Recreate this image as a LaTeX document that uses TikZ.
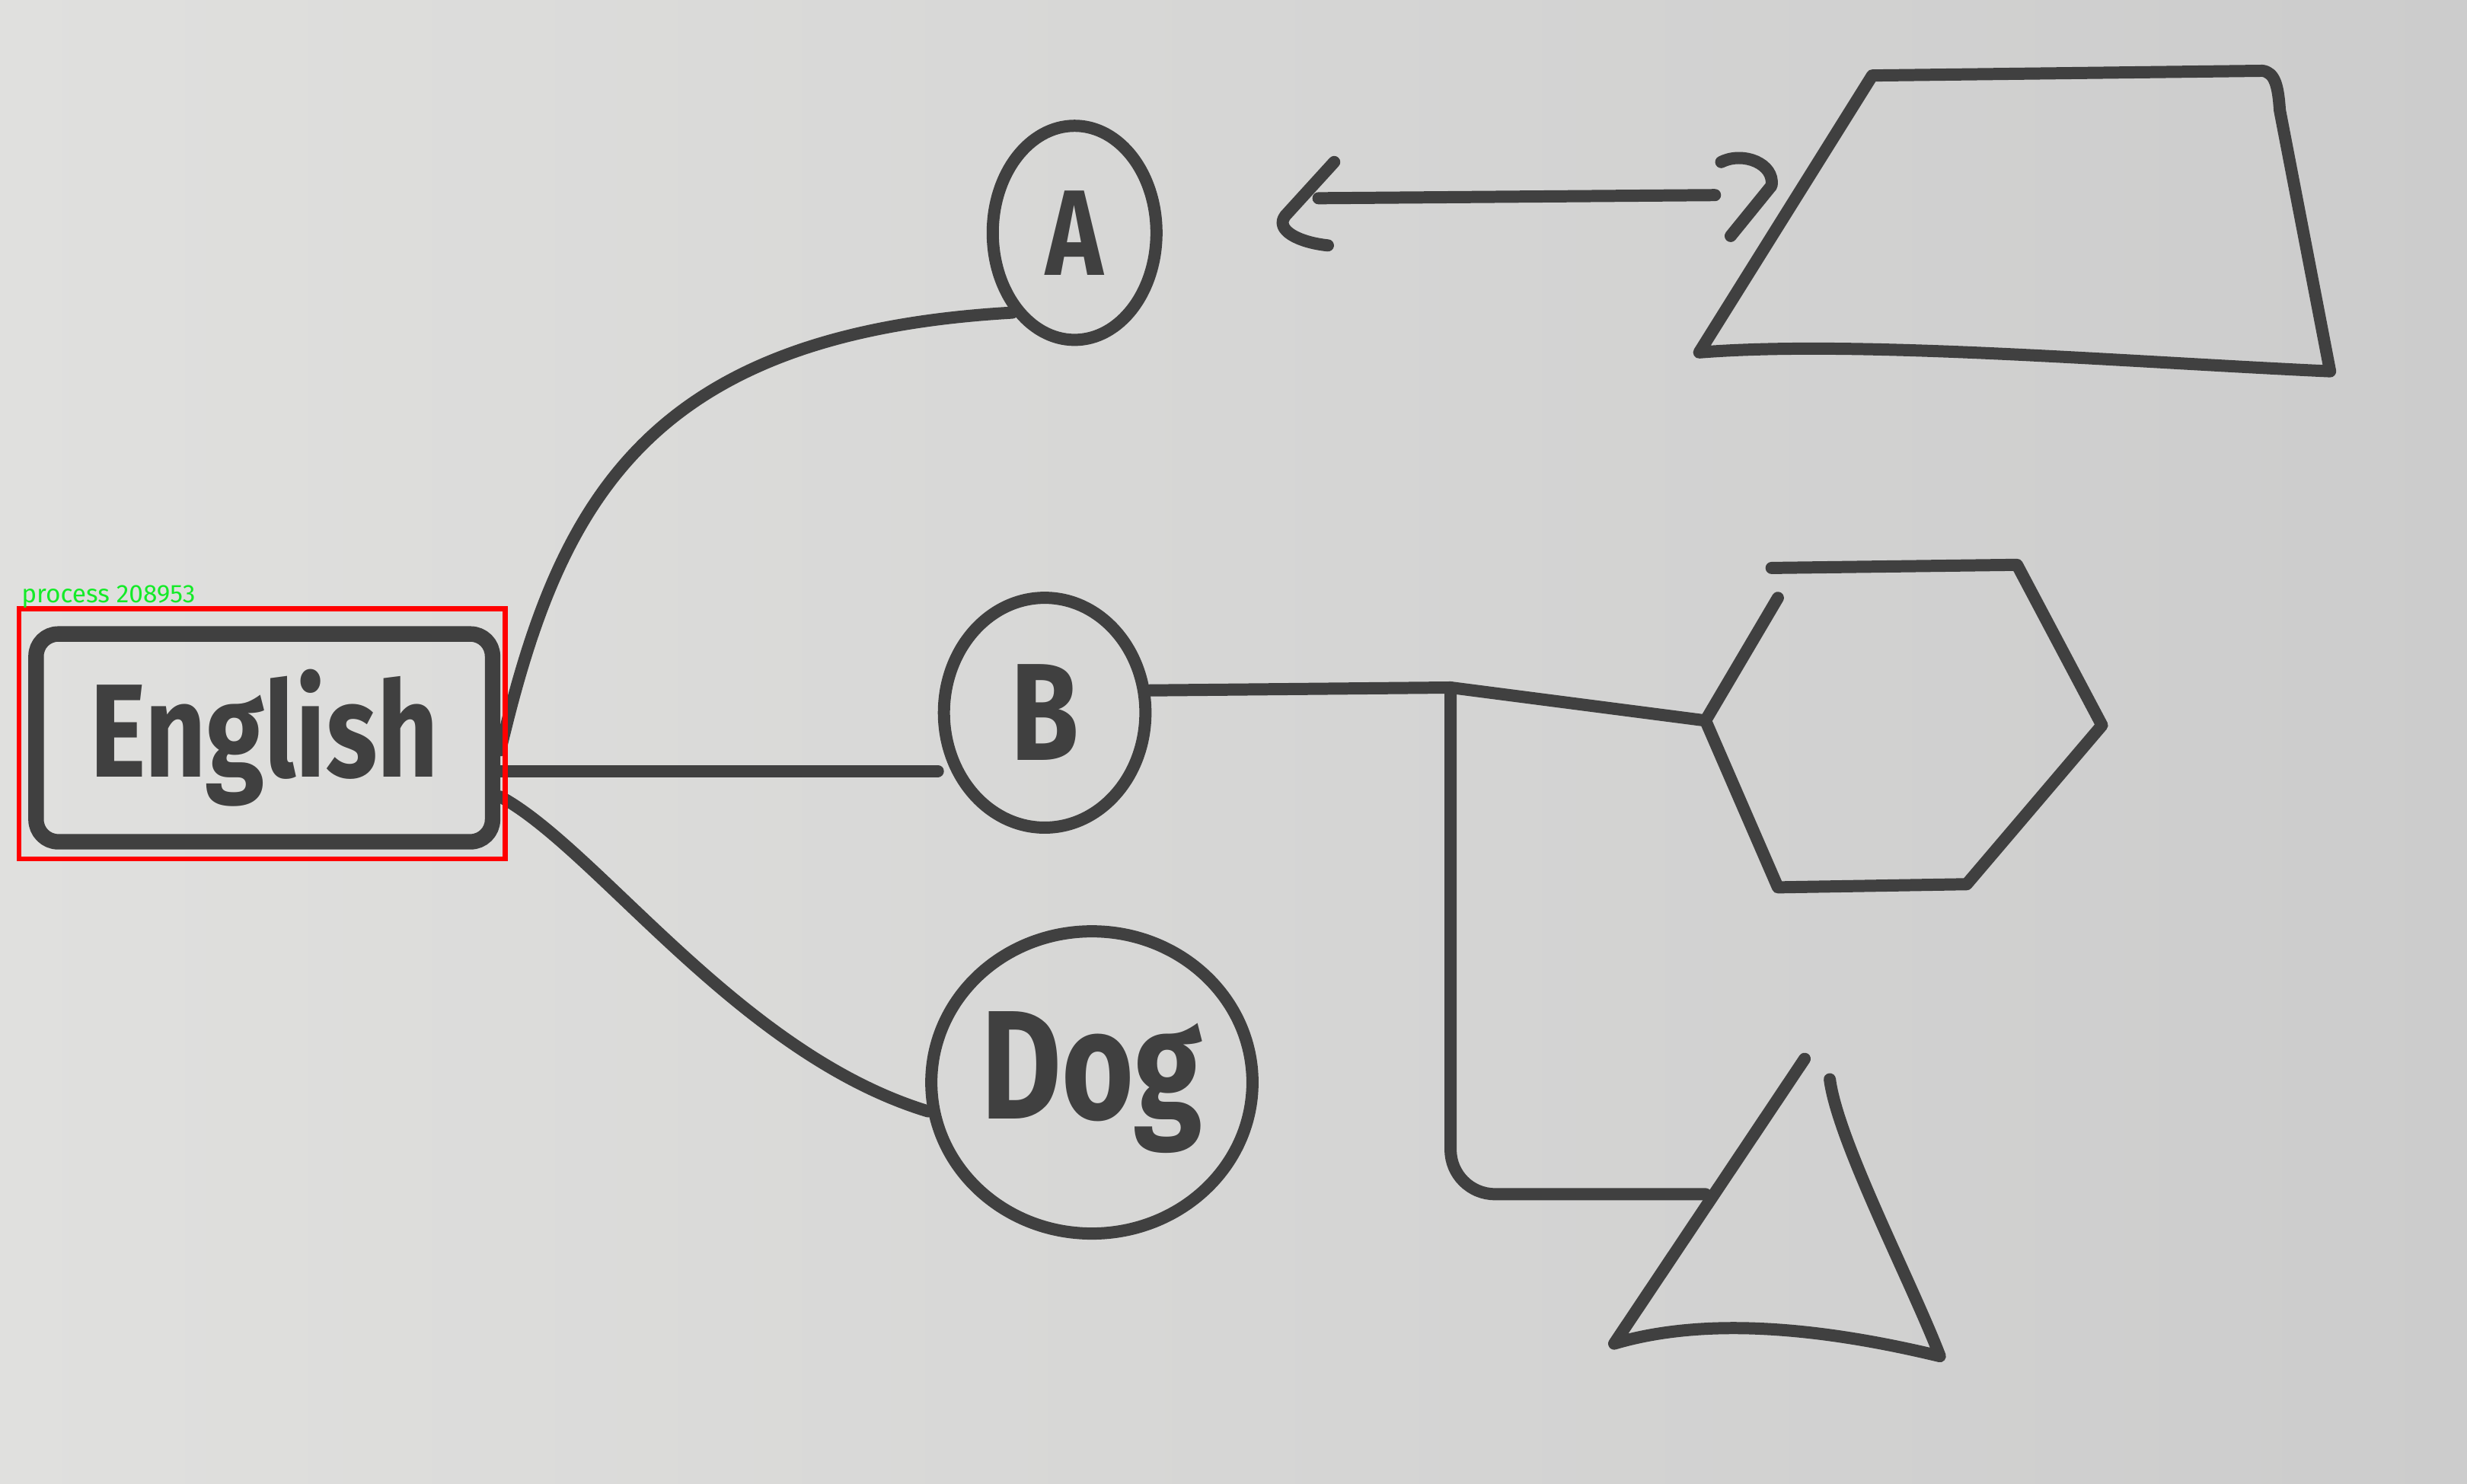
\documentclass[tikz,border=0pt]{standalone}
\usepackage{fontspec}
\setsansfont{Fira Sans}
\usetikzlibrary{positioning}
\usetikzlibrary{shapes}
\usetikzlibrary{calc}

\definecolor{ink}{RGB}{64,64,64}
\definecolor{boardL}{RGB}{224,224,222}
\definecolor{boardR}{RGB}{204,204,204}
\definecolor{markgreen}{RGB}{20,235,40}

\begin{document}
\begin{tikzpicture}[x=0.01cm, y=-0.01cm,
	pen/.style={draw=ink, line width=2.2pt, line cap=round, line join=round},
	bubble/.style={pen, ellipse, inner sep=0pt, text=ink, font=\sffamily\bfseries},
	box/.style={pen, line width=2.8pt, rounded corners=4pt, inner sep=0pt, text=ink, font=\sffamily\bfseries}]

	% board
	\useasboundingbox (0,0) rectangle (1568,943);
	\shade[left color=boardL, right color=boardR] (0,0) rectangle (1568,943);

	\node[box, minimum width=2.9cm, minimum height=1.32cm] (English) at (168,469) {\fontsize{24}{24}\selectfont\scalebox{0.8}[1]{English}};

	\foreach \name/\x/\y/\w/\h/\sz in {A/683/148/1.04/1.36/22, B/664/453/1.28/1.46/25, Dog/694/688/2.04/1.92/28} {
		\node[bubble, minimum width=\w cm, minimum height=\h cm] (\name) at (\x,\y) {\fontsize{\sz}{\sz}\selectfont\scalebox{0.8}[1]{\name}};
	}

	% trapezoid
	\coordinate (tBL) at (1080,224);
	\coordinate (tTL) at (1190,48);
	\coordinate (tTR) at (1438,45);
	\coordinate (tBR) at (1481,236);
	\draw[pen] (tBL) -- (tTL) -- (tTR) .. controls (1446,46) and (1448,55) .. (1449,70) -- (tBR) .. controls (1350,230) and (1180,216) .. (tBL) -- cycle;

	% double arrow
	\coordinate (aL) at (838,126);
	\coordinate (aR) at (1090,124);
	\draw[pen] (aL) -- (aR);
	\draw[pen] (848,103) -- (817,137) .. controls (810,146) and (825,154) .. (844,156);
	\draw[pen] (1094,103) .. controls (1108,96) and (1128,104) .. (1126,118) -- (1100,150);

	% hexagon
	\coordinate (h1) at (1126,361);
	\coordinate (h2) at (1282,359);
	\coordinate (h3) at (1336,461);
	\coordinate (h4) at (1250,562);
	\coordinate (h5) at (1130,564);
	\coordinate (h6) at (1084,458);
	\coordinate (h7) at (1130,380);
	\draw[pen] (h1) -- (h2) -- (h3) -- (h4) -- (h5) -- (h6) -- (h7);

	% triangle
	\coordinate (r1) at (1147,673);
	\coordinate (r2) at (1026,854);
	\coordinate (r3) at (1233,862);
	\coordinate (r4) at (1163,686);
	\draw[pen] (r1) -- (r2) .. controls (1080,838) and (1150,842) .. (r3) .. controls (1215,815) and (1168,725) .. (r4);

	% connectors
	\draw[pen] (English.-3) .. controls (355,320) and (410,212) .. (A.232);
	\draw[pen] (English.-8) -- (B.west |- English.-8);
	\draw[pen] (English.-14) .. controls (380,540) and (470,670) .. (Dog.190);

	\coordinate (j) at (922,437);
	\coordinate (tW) at (1084,759);
	\draw[pen] (B.12) -- (j) -- (h6);
	\draw[pen, rounded corners=8pt] (j) |- (tW);

	% detection mark
	\draw[red, line width=0.9pt] (12,387) rectangle (321,546);
	\node[anchor=base west, inner sep=0pt, text=markgreen, font=\fontsize{4.6}{5}\sffamily] (tag) at (13,383) {process 208953};

\end{tikzpicture}
\end{document}
